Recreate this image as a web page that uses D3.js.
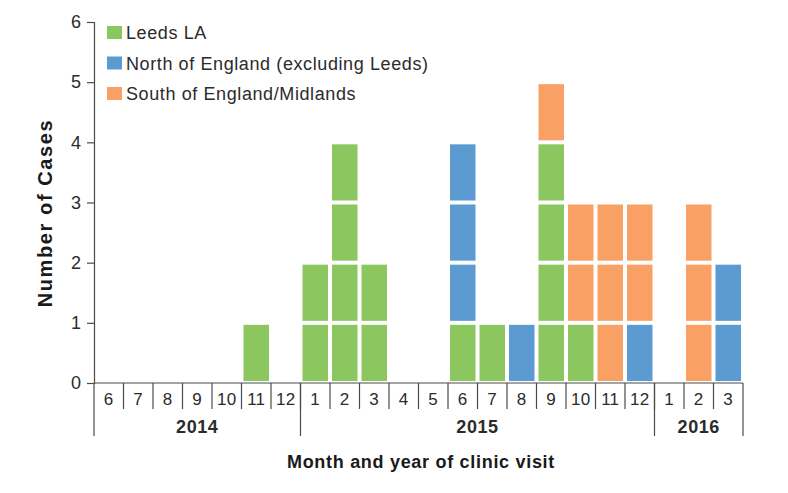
<!DOCTYPE html>
<html>
<head>
<meta charset="utf-8">
<script src="https://cdn.jsdelivr.net/npm/d3@7"></script>
<style>
  body { margin: 0; background: #fff; }
  text { font-family: "Liberation Sans", Arial, sans-serif; }
</style>
</head>
<body>
<div id="chart"></div>
<script>
// month labels and the year each belongs to
const months = [6, 7, 8, 9, 10, 11, 12, 1, 2, 3, 4, 5, 6, 7, 8, 9, 10, 11, 12, 1, 2, 3];
const years = [2014, 2014, 2014, 2014, 2014, 2014, 2014,
  2015, 2015, 2015, 2015, 2015, 2015, 2015, 2015, 2015, 2015, 2015, 2015,
  2016, 2016, 2016];
const seriesNames = ["Leeds LA", "North of England (excluding Leeds)", "South of England/Midlands"];
const leeds = [0, 0, 0, 0, 0, 1, 0, 2, 4, 2, 0, 0, 1, 1, 0, 4, 1, 0, 0, 0, 0, 0];
const north = [0, 0, 0, 0, 0, 0, 0, 0, 0, 0, 0, 0, 3, 0, 1, 0, 0, 0, 1, 0, 0, 2];
const south = [0, 0, 0, 0, 0, 0, 0, 0, 0, 0, 0, 0, 0, 0, 0, 1, 2, 3, 2, 0, 3, 0];
const yTicks = [0, 1, 2, 3, 4, 5, 6];
const colors = ["#8cc65f", "#5b9bd1", "#f9a065"];

const width = 788, height = 493;
const margin = { top: 22, right: 45, bottom: 110, left: 94 };
const innerW = width - margin.left - margin.right;
const innerH = height - margin.top - margin.bottom;
const axisColor = "#4a4a4a";
const textColor = "#2b2b2b";

const svg = d3.select("#chart")
  .append("svg")
  .attr("width", width)
  .attr("height", height);

const g = svg.append("g")
  .attr("transform", "translate(" + margin.left + "," + margin.top + ")");

const idx = months.map((m, i) => i);
const x = d3.scaleBand().domain(idx).range([0, innerW]).paddingInner(0).paddingOuter(0);
const y = d3.scaleLinear().domain([0, 6]).range([innerH, 0]);

// one rect per case, stacked leeds -> north -> south
const cells = [];
idx.forEach(i => {
  let level = 0;
  [leeds, north, south].forEach((arr, s) => {
    for (let k = 0; k < arr[i]; k++) {
      cells.push({ i: i, s: s, v: level });
      level++;
    }
  });
});

const pad = 2;
g.selectAll(".cell")
  .data(cells)
  .enter()
  .append("rect")
  .attr("class", "cell")
  .attr("x", d => x(d.i) + pad)
  .attr("width", x.bandwidth() - pad * 2)
  .attr("y", d => y(d.v + 1) + 2)
  .attr("height", d => y(d.v) - y(d.v + 1) - 4)
  .attr("fill", d => colors[d.s]);

// y axis
const yAxis = g.append("g")
  .call(d3.axisLeft(y).tickValues(yTicks).tickSize(7).tickPadding(6).tickFormat(d3.format("d")));
yAxis.selectAll("path, line").attr("stroke", axisColor).attr("stroke-width", 1.2);
yAxis.selectAll("text").attr("font-size", 18).attr("fill", textColor)
  .style("font-family", "Liberation Sans, Arial, sans-serif");

// baseline
g.append("line")
  .attr("x1", 0).attr("x2", innerW)
  .attr("y1", innerH).attr("y2", innerH)
  .attr("stroke", axisColor).attr("stroke-width", 1.2);

// month dividers and labels
const monthRow = 26, yearRow = 53;
g.selectAll(".mdiv")
  .data(idx.slice(1))
  .enter()
  .append("line")
  .attr("x1", d => x(d)).attr("x2", d => x(d))
  .attr("y1", innerH).attr("y2", innerH + monthRow)
  .attr("stroke", axisColor).attr("stroke-width", 1.2);

g.selectAll(".mlabel")
  .data(idx)
  .enter()
  .append("text")
  .attr("x", d => x(d) + x.bandwidth() / 2)
  .attr("y", innerH + 22)
  .attr("text-anchor", "middle")
  .attr("font-size", 17)
  .attr("letter-spacing", 0.3)
  .attr("fill", textColor)
  .text(d => months[d]);

// year groups
const yearGroups = d3.groups(idx, i => years[i]);
const bounds = [0];
yearGroups.forEach(([yr, list]) => bounds.push(x(list[list.length - 1]) + x.bandwidth()));
g.selectAll(".ydiv")
  .data(bounds)
  .enter()
  .append("line")
  .attr("x1", d => d).attr("x2", d => d)
  .attr("y1", innerH).attr("y2", innerH + yearRow)
  .attr("stroke", axisColor).attr("stroke-width", 1.2);

g.selectAll(".ylabel")
  .data(yearGroups)
  .enter()
  .append("text")
  .attr("x", d => (x(d[1][0]) + x(d[1][d[1].length - 1]) + x.bandwidth()) / 2)
  .attr("y", innerH + 50)
  .attr("text-anchor", "middle")
  .attr("font-size", 18)
  .attr("letter-spacing", 0.6)
  .attr("font-weight", "bold")
  .attr("fill", textColor)
  .text(d => d[0]);

// axis titles
svg.append("text")
  .attr("x", 421)
  .attr("y", 468)
  .attr("text-anchor", "middle")
  .attr("font-size", 18)
  .attr("letter-spacing", 0.7)
  .attr("font-weight", "bold")
  .attr("fill", "#1a1a1a")
  .text("Month and year of clinic visit");

svg.append("text")
  .attr("transform", "translate(52,213) rotate(-90)")
  .attr("text-anchor", "middle")
  .attr("font-size", 20)
  .attr("letter-spacing", 1.6)
  .attr("font-weight", "bold")
  .attr("fill", "#1a1a1a")
  .text("Number of Cases");

// legend
const legend = svg.selectAll(".legend")
  .data(seriesNames)
  .enter()
  .append("g")
  .attr("transform", (d, i) => "translate(107," + (26 + i * 30.5) + ")");
legend.append("rect")
  .attr("width", 15).attr("height", 13)
  .attr("fill", (d, i) => colors[i]);
legend.append("text")
  .attr("x", 19).attr("y", 13)
  .attr("font-size", 18)
  .attr("letter-spacing", 0.6)
  .attr("fill", textColor)
  .text(d => d);
</script>
</body>
</html>
